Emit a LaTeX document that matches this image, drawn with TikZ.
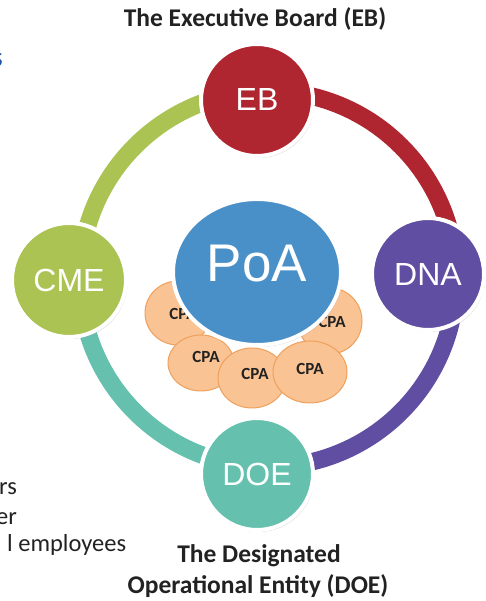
\documentclass[tikz,border=0pt]{standalone}
\usepackage{fontspec}
\setmainfont{Liberation Sans}
\newfontfamily\calib{Carlito}
\usetikzlibrary{shapes.geometric,shadows}
\definecolor{ebred}{RGB}{176,38,48}
\definecolor{dnapurple}{RGB}{96,78,162}
\definecolor{doeteal}{RGB}{101,193,174}
\definecolor{cmegreen}{RGB}{170,195,82}
\definecolor{poablue}{RGB}{74,144,200}
\definecolor{cpafill}{RGB}{250,195,148}
\definecolor{cpaedge}{RGB}{238,160,92}
\definecolor{labeltext}{RGB}{34,34,34}
\definecolor{fragblue}{RGB}{31,84,160}
\begin{document}
\begin{tikzpicture}[x=1pt,y=1pt,
  hub/.style={circle, draw=white, line width=4pt, minimum size=112pt, inner sep=0pt,
    text=white, font=\fontsize{32}{36}\selectfont,
    drop shadow={shadow xshift=1.5pt, shadow yshift=-2pt, opacity=0.3}},
  poastyle/.style={ellipse, draw=white, line width=4pt, minimum width=168pt, minimum height=146pt,
    inner sep=0pt, fill=poablue, text=white, font=\fontsize{53}{60}\selectfont,
    drop shadow={shadow xshift=1.5pt, shadow yshift=-2pt, opacity=0.3}},
  cpa/.style={ellipse, draw=cpaedge, line width=1pt, fill=cpafill, inner sep=0pt},
  cpatext/.style={text=labeltext, font=\calib\bfseries\fontsize{17}{19}\selectfont, inner sep=0pt},
  ring/.style={line width=17.5pt},
  biglabel/.style={text=labeltext, font=\calib\bfseries\fontsize{25.5}{30}\selectfont, align=center, inner sep=0pt},
  fraglabel/.style={text=labeltext, font=\calib\fontsize{24.5}{30}\selectfont, inner sep=0pt, anchor=base west}
]
\useasboundingbox (0,0) rectangle (486,601);
\clip (0,0) rectangle (486,601);
\fill[white] (0,0) rectangle (486,601);

% ring
\coordinate (ringc) at (268,322);
\draw[ring, ebred]     (ringc) ++(93.5:188) arc[start angle=93.5, end angle=1.8, radius=188];
\draw[ring, dnapurple] (ringc) ++(1.8:188) arc[start angle=1.8, end angle=-93.2, radius=188];
\draw[ring, doeteal]   (ringc) ++(-93.2:188) arc[start angle=-93.2, end angle=-179.7, radius=188];
\draw[ring, cmegreen]  (ringc) ++(180.3:188) arc[start angle=180.3, end angle=93.5, radius=188];

% CPA ellipses
\node[cpa, minimum width=66pt, minimum height=64pt] (cpa1) at (178,288) {};
\node[cpa, minimum width=64pt, minimum height=66pt] (cpa2) at (330,280) {};
\node[cpa, minimum width=66pt, minimum height=56pt] (cpa3) at (201,238) {};
\node[cpa, minimum width=68pt, minimum height=60pt] (cpa4) at (252,223) {};
\node[cpa, minimum width=74pt, minimum height=62pt] (cpa5) at (310,229) {};
\node[cpatext] (cpat1) at (183,287) {CPA};
\node[cpatext] (cpat2) at (332,279) {CPA};
\node[cpatext] (cpat3) at (206,244) {CPA};
\node[cpatext] (cpat4) at (255,227) {CPA};
\node[cpatext] (cpat5) at (310,232) {CPA};

% PoA
\node[poastyle] (poa) at (257,329) {};
\node[text=white, font=\fontsize{53}{60}\selectfont, inner sep=0pt] (poat) at (257,337) {PoA};

% outer hubs
\node[hub, fill=ebred] (eb) at (257,501) {EB};
\node[hub, fill=dnapurple] (dna) at (428,327) {DNA};
\node[hub, fill=doeteal] (doe) at (257,127) {DOE};
\node[hub, fill=cmegreen, minimum size=114pt] (cme) at (69,321) {CME};

% labels
\node[biglabel, anchor=base] (ebl) at (255,574) {The Executive Board (EB)};
\node[biglabel, anchor=base] (doel1) at (259,38) {The Designated};
\node[biglabel, anchor=base] (doel2) at (258,8) {Operational Entity (DOE)};

% text cut off at the left edge, as in the reference
\node[text=fragblue, font=\calib\fontsize{28}{30}\selectfont, inner sep=0pt, anchor=base east] (fr0) at (3,534) {s};
\node[fraglabel] (fr1) at (-1,106) {rs};
\node[fraglabel] (fr2) at (-4,76) {er};
\node[fraglabel] (fr3) at (7,49) {l employees};
\end{tikzpicture}
\end{document}
